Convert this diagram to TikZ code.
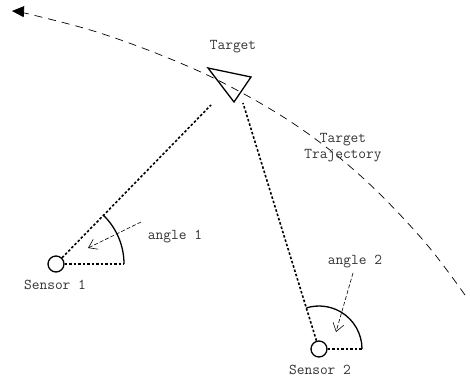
\documentclass[tikz,border=0pt]{standalone}
\usepackage{fontspec}
\usetikzlibrary{arrows.meta}
\begin{document}
\begin{tikzpicture}[x=1pt,y=-1pt,
 lbl/.style={font=\ttfamily\fontsize{15}{16}\selectfont, text=black!80, inner sep=0pt},
 sensor/.style={circle, draw, line width=1.3pt, minimum size=16pt, inner sep=0pt},
 sight/.style={line width=1.6pt, dash pattern=on 2.5pt off 2pt},
 traj/.style={line width=0.7pt, dash pattern=on 8pt off 6pt},
 anglearc/.style={line width=1.3pt},
 tri/.style={line width=1.3pt, line join=miter},
 pointer/.style={line width=0.6pt, dash pattern=on 4pt off 2pt, -{Straight Barb[length=8pt,width=11pt]}}]
\useasboundingbox (0,0) rectangle (470,381);
% trajectory
\draw[traj, -{Triangle[length=12pt,width=11pt]}] plot[smooth, tension=0.6] coordinates {(465,295) (423,240) (363,178) (300,128) (233,88) (173,60) (100,33) (33,15) (12,11)};
% target
\coordinate (ta) at (208,68);
\coordinate (tb) at (251,77);
\coordinate (tc) at (234,102);
\draw[tri] (ta) -- (tb) -- (tc) -- cycle;
\node[lbl] (tlabel) at (233,47) {Target};
\node[lbl, align=center] (trajlabel) at (343,148) {Target\\Trajectory};
% sensors
\node[sensor] (s1) at (56,264) {};
\node[sensor] (s2) at (319,349) {};
\node[lbl] (s1label) at (55,285) {Sensor 1};
\node[lbl] (s2label) at (320,370) {Sensor 2};
% lines of sight
\coordinate (t1) at (211,105);
\coordinate (t2) at (243,103);
\coordinate (h1) at (124,264);
\coordinate (h2) at (362,349);
\draw[sight] (s1) -- (t1);
\draw[sight] (s2) -- (t2);
\draw[sight] (s1) -- (h1);
\draw[sight] (s2) -- (h2);
% angle arcs
\draw[anglearc] (h1) arc[start angle=0, end angle=-46, radius=68];
\draw[anglearc] (h2) arc[start angle=0, end angle=-107, radius=43];
% angle labels
\node[lbl] (a1label) at (175,237) {angle 1};
\node[lbl] (a2label) at (355,262) {angle 2};
\coordinate (p1s) at (141,222);
\coordinate (p1e) at (88,248);
\coordinate (p2s) at (353,273);
\coordinate (p2e) at (336,332);
\draw[pointer] (p1s) -- (p1e);
\draw[pointer] (p2s) -- (p2e);
\end{tikzpicture}
\end{document}
